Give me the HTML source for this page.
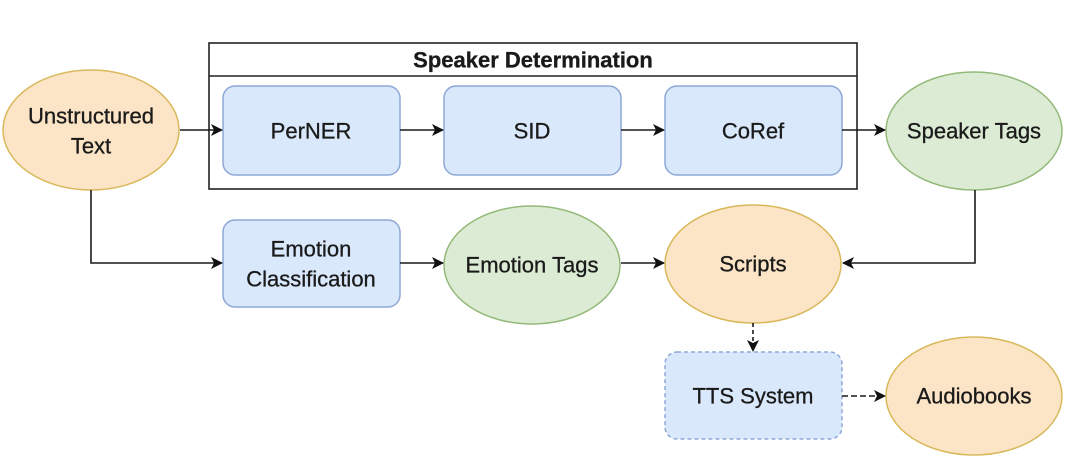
<!DOCTYPE html>
<html><head><meta charset="utf-8"><style>
html,body{margin:0;padding:0;background:#fff;}
svg{display:block;}
text{font-family:"Liberation Sans",Arial,sans-serif;fill:#1a1a1a;font-size:22px;text-anchor:middle;dominant-baseline:central;stroke:#1a1a1a;stroke-width:0.3px;}
</style></head><body>
<svg width="1080" height="472" viewBox="0 0 1080 472" xmlns="http://www.w3.org/2000/svg">
<defs>
<marker id="a" markerWidth="12" markerHeight="12" refX="11" refY="6" orient="auto" markerUnits="userSpaceOnUse">
<path d="M0,0 L12,6 L0,12 L3,6 z" fill="#111"/></marker>
</defs>
<rect width="1080" height="472" fill="#fff"/>
<rect x="209" y="43" width="648" height="146" fill="#fff" stroke="#222" stroke-width="1.6"/>
<line x1="209" y1="76" x2="857" y2="76" stroke="#222" stroke-width="1.6"/>
<text x="533" y="60" style="font-weight:bold;font-size:22px">Speaker Determination</text>
<g fill="#dae8fc" stroke="#8ea8d6" stroke-width="1.5">
<rect x="223" y="86" width="177" height="89" rx="12"/>
<rect x="444" y="86" width="177" height="89" rx="12"/>
<rect x="665" y="86" width="177" height="89" rx="12"/>
<rect x="223" y="220" width="177" height="87" rx="12"/>
<rect x="665" y="352" width="177" height="87" rx="12" stroke-dasharray="4,3"/>
</g>
<g stroke-width="1.5">
<ellipse cx="91" cy="130" rx="88" ry="60" fill="#fce5c6" stroke="#d9b85a"/>
<ellipse cx="974" cy="131" rx="88" ry="59" fill="#dcebd4" stroke="#94ba7a"/>
<ellipse cx="532" cy="265" rx="88" ry="59" fill="#dcebd4" stroke="#94ba7a"/>
<ellipse cx="753" cy="264" rx="88" ry="59" fill="#fce5c6" stroke="#d9b85a"/>
<ellipse cx="974" cy="396" rx="88" ry="59" fill="#fce5c6" stroke="#d9b85a"/>
</g>
<g stroke="#1a1a1a" stroke-width="1.6" fill="none" marker-end="url(#a)">
<line x1="180" y1="130" x2="222" y2="130"/>
<line x1="400" y1="130" x2="443" y2="130"/>
<line x1="621" y1="130" x2="664" y2="130"/>
<line x1="842" y1="130" x2="885" y2="130"/>
<polyline points="91,190 91,263 222,263"/>
<line x1="400" y1="263" x2="443" y2="263"/>
<line x1="621" y1="263" x2="664" y2="263"/>
<polyline points="975,190 975,263 843,263"/>
<line x1="753" y1="323" x2="753" y2="351" stroke-dasharray="4,3"/>
<line x1="842" y1="396" x2="885" y2="396" stroke-dasharray="6,3"/>
</g>
<text x="91" y="116">Unstructured</text>
<text x="91" y="146">Text</text>
<text x="311" y="131">PerNER</text>
<text x="532" y="131">SID</text>
<text x="753" y="131">CoRef</text>
<text x="974" y="131">Speaker Tags</text>
<text x="311" y="249">Emotion</text>
<text x="311" y="279">Classification</text>
<text x="532" y="265">Emotion Tags</text>
<text x="753" y="264">Scripts</text>
<text x="753" y="396">TTS System</text>
<text x="974" y="396">Audiobooks</text>
</svg>
</body></html>
